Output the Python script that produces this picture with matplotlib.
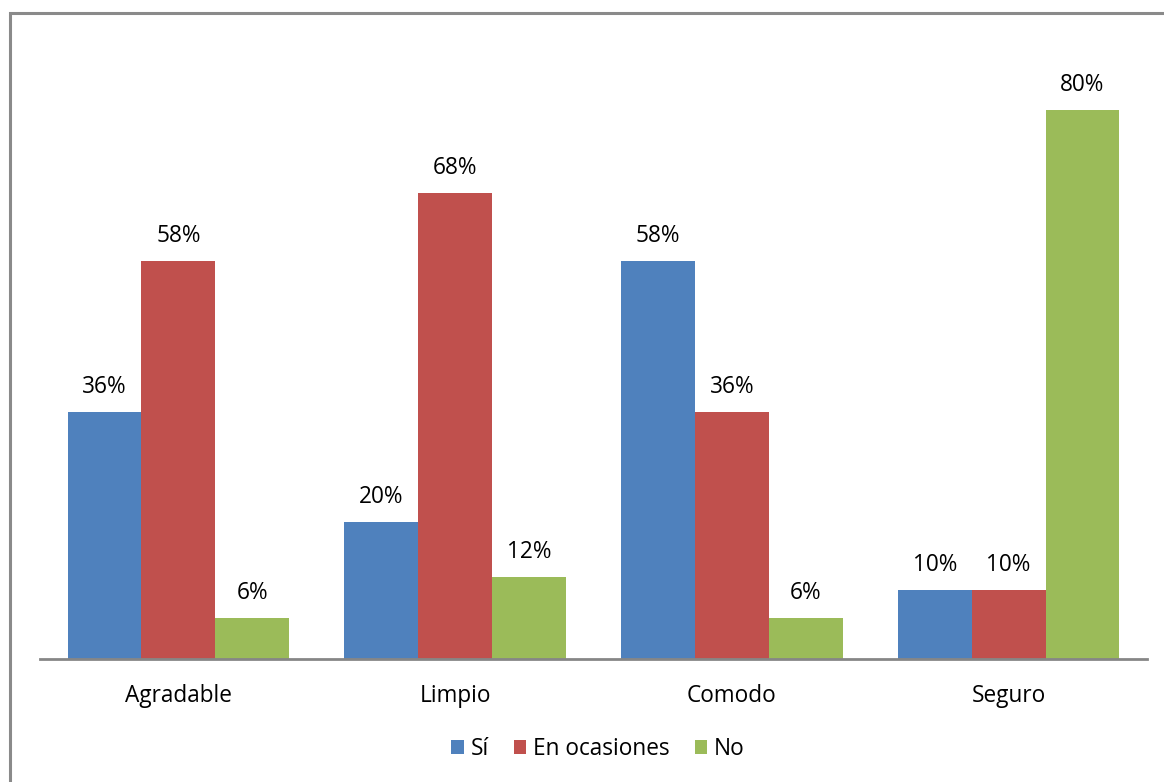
import matplotlib
matplotlib.use("Agg")
import matplotlib.pyplot as plt
from matplotlib.patches import Rectangle
import numpy as np

plt.rcParams['font.family'] = ['Open Sans', 'DejaVu Sans']

categories = ["Agradable", "Limpio", "Comodo", "Seguro"]
series_names = ["Sí", "En ocasiones", "No"]
si = [0.36, 0.20, 0.58, 0.10]
ocasiones = [0.58, 0.68, 0.36, 0.10]
no = [0.06, 0.12, 0.06, 0.80]
colors = ["#4F81BD", "#C0504D", "#9BBB59"]

W, H = 1164, 782
fs = 16.3
fig = plt.figure(figsize=(W / 100, H / 100), dpi=100)

# outer chart frame (runs off the right and bottom edges)
fig.patches.append(Rectangle((10 / W, -0.05), 1.2, (H - 13) / H + 0.05,
                             transform=fig.transFigure, fill=False,
                             edgecolor="#8a8a8a", linewidth=2.2))

ymax = 0.9
px_per_unit = 686
ax_left, ax_right = 40 / W, 1147 / W
ax_bottom = (H - 659) / H
ax_height = ymax * px_per_unit / H
ax = fig.add_axes([ax_left, ax_bottom, ax_right - ax_left, ax_height])

x = np.arange(len(categories))
width = 0.267
for i, (vals, name, col) in enumerate(zip([si, ocasiones, no], series_names, colors)):
    bars = ax.bar(x + (i - 1) * width, vals, width, color=col, label=name,
                  linewidth=0)
    for b, v in zip(bars, vals):
        ax.annotate(f"{round(v * 100)}%", (b.get_x() + b.get_width() / 2, v),
                    xytext=(0, 18), textcoords="offset points",
                    ha="center", va="center", fontsize=fs, color="#000000")

ax.set_xlim(-0.5, len(categories) - 0.5)
ax.set_ylim(0, ymax)
ax.set_yticks([])
ax.set_xticks(x)
ax.set_xticklabels(categories, fontsize=fs)
ax.tick_params(axis="x", length=0, pad=18)
for s in ["top", "right", "left"]:
    ax.spines[s].set_visible(False)
ax.spines["bottom"].set_color("#868686")
ax.spines["bottom"].set_linewidth(2)

handles, labels = ax.get_legend_handles_labels()
fig.legend(handles, labels, loc="center", bbox_to_anchor=(598 / W, 1 - 749 / H),
           ncol=3, frameon=False, fontsize=fs, handlelength=0.55,
           handleheight=0.55, handletextpad=0.3, columnspacing=1.1)

fig.savefig("out.png", dpi=100)
